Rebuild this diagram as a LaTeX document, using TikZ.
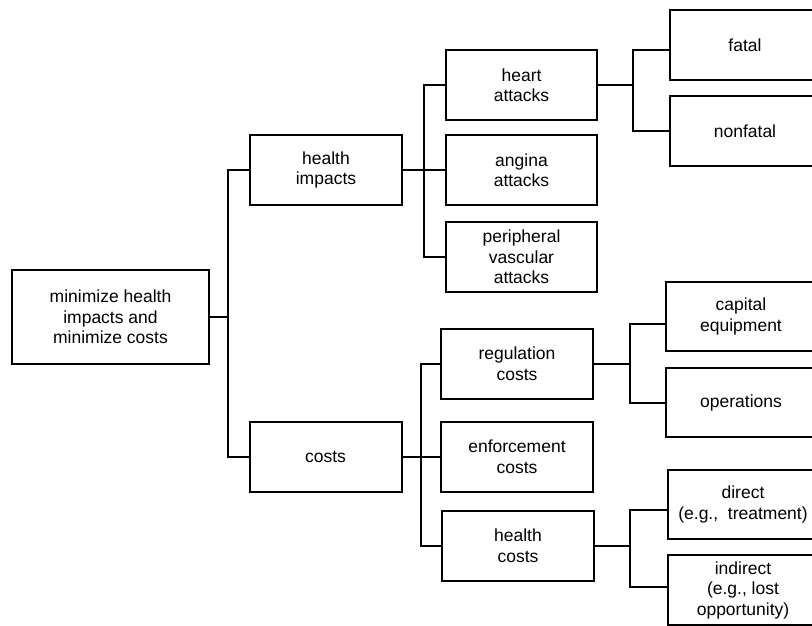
\documentclass[tikz,border=0pt]{standalone}
\usepackage{fontspec}
\setmainfont{Liberation Sans}
\begin{document}
\begin{tikzpicture}[x=1pt,y=-1pt,
  box/.style={draw, line width=2pt, minimum width=#1, minimum height=70pt,
    inner sep=0pt, align=center, font=\fontsize{17.5}{20.5}\selectfont},
  box/.default=151pt,
  link/.style={line width=2pt}]
\useasboundingbox (0,0) rectangle (812,626);
\clip (0,0) rectangle (812,626);

% root
\node[box=197pt, minimum height=94pt] (root) at (110.5,317) {minimize health\\impacts and\\minimize costs};

% second level
\node[box=152pt] (hi) at (326,170) {health\\impacts};
\node[box=152pt] (costs) at (325.5,457) {costs};

% third level, health impacts
\node[box] (heart) at (521.5,85) {heart\\attacks};
\node[box] (angina) at (521.5,170) {angina\\attacks};
\node[box] (periph) at (521.5,257) {peripheral\\vascular\\attacks};

% third level, costs
\node[box=152pt] (reg) at (517,363.5) {regulation\\costs};
\node[box=152pt] (enf) at (517,457) {enforcement\\costs};
\node[box=152pt] (hc) at (518,545.5) {health\\costs};

% fourth level
\node[box=150pt] (fatal) at (745,45) {fatal};
\node[box=150pt] (nonfatal) at (745,131) {nonfatal};
\node[box=150pt, minimum height=69pt] (capital) at (741,316.5) {capital\\equipment};
\node[box=150pt, minimum height=69pt] (oper) at (741,402.5) {operations};
\node[box=150pt, minimum height=69pt] (direct) at (743,504.5) {direct\\(e.g.,\ \ treatment)};
\node[box=150pt] (indirect) at (743,590) {indirect\\(e.g., lost\\opportunity)};

% bracket columns
\coordinate (t1) at (228,0);
\coordinate (b1) at (424,0);
\coordinate (b2) at (421,0);
\coordinate (c1) at (633,0);
\coordinate (c2) at (630,0);

% root to second level
\draw[link] (root.east) -- (root.east -| t1);
\draw[link] (hi.west) -- (hi.west -| t1) |- (costs.west);

% health impacts branches
\draw[link] (hi.east) -- (angina.west);
\draw[link] (heart.west) -- (heart.west -| b1) |- (periph.west);

% heart attacks branches
\draw[link] (heart.east) -- (heart.east -| c1);
\draw[link] ([yshift=-5pt]fatal.west) -- ([yshift=-5pt]fatal.west -| c1) |- (nonfatal.west);

% costs branches
\draw[link] (costs.east) -- (enf.west);
\draw[link] (reg.west) -- (reg.west -| b2) |- (hc.west);

% regulation costs branches
\draw[link] (reg.east) -- (reg.east -| c2);
\draw[link] ([yshift=-7pt]capital.west) -- ([yshift=-7pt]capital.west -| c2) |- (oper.west);

% health costs branches
\draw[link] (hc.east) -- (hc.east -| c2);
\draw[link] ([yshift=-5pt]direct.west) -- ([yshift=-5pt]direct.west -| c2) |- ([yshift=3pt]indirect.west);
\end{tikzpicture}
\end{document}
